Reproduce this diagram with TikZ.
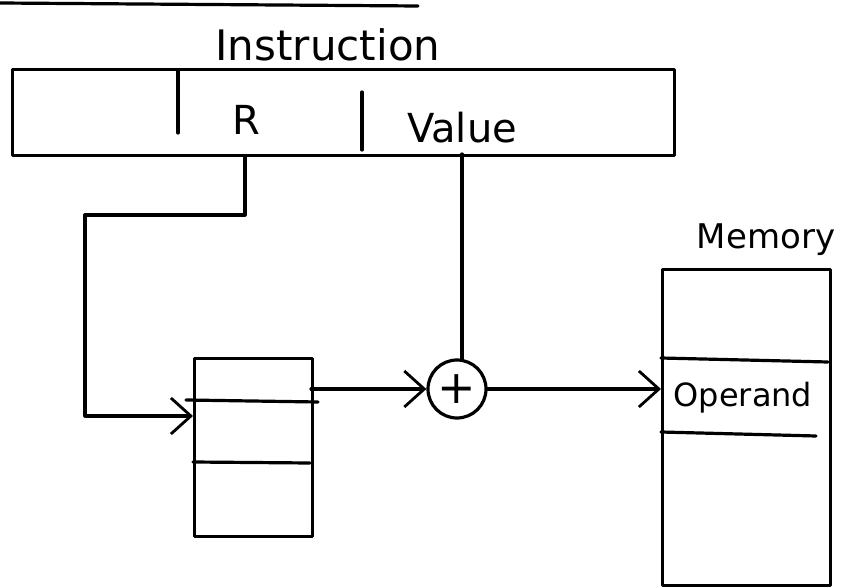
\documentclass[tikz,border=0pt]{standalone}
\usepackage{fontspec}
\setmainfont{DejaVu Sans}
\usetikzlibrary{arrows.meta}
\begin{document}
\begin{tikzpicture}[x=1pt,y=-1pt,
  ln/.style={line width=3.2pt, line cap=round, line join=round},
  arr/.style={ln, -{Straight Barb[length=20pt,width=36pt,line width=2.8pt]}},
  lbl/.style={inner sep=0pt, font=\fontsize{42}{44}\selectfont},
  box/.style={ln, draw, inner sep=0pt, anchor=north west}]
\useasboundingbox (0,0) rectangle (841,588);
\fill[white] (0,0) rectangle (841,588);
% top rule
\coordinate (ta) at (0,3);
\coordinate (tb) at (418,6);
\draw[ln] (ta) -- (tb);
% instruction
\node[lbl] (itxt) at (328,45) {Instruction};
\node[box, minimum width=662pt, minimum height=86pt] (inst) at (11,68) {};
\coordinate (d1t) at (178,70);
\coordinate (d1b) at (178,133);
\coordinate (d2t) at (362,92);
\coordinate (d2b) at (362,150);
\draw[ln] (d1t) -- (d1b);
\draw[ln] (d2t) -- (d2b);
\node[lbl, font=\fontsize{40}{42}\selectfont] (rtxt) at (246,120) {R};
\node[lbl, font=\fontsize{40}{42}\selectfont] (vtxt) at (462,128) {Value};
% register file
\node[box, minimum width=118pt, minimum height=178pt] (reg) at (193,357) {};
\coordinate (r1l) at (186,400);
\coordinate (r1r) at (318,402);
\coordinate (r2l) at (193,462);
\coordinate (r2r) at (310,463);
\draw[ln] (r1l) -- (r1r);
\draw[ln] (r2l) -- (r2r);
% adder
\node[ln, draw, circle, minimum size=58pt, inner sep=0pt] (add) at (457,389) {};
\node[lbl, font=\fontsize{46}{46}\selectfont] (plus) at (add.center) {+};
% memory
\node[lbl, font=\fontsize{34}{36}\selectfont] (mtxt) at (766,240) {Memory};
\node[box, minimum width=168pt, minimum height=316pt] (mem) at (661,268) {};
\coordinate (m1l) at (661,358);
\coordinate (m1r) at (828,362);
\coordinate (m2l) at (661,432);
\coordinate (m2r) at (816,436);
\draw[ln] (m1l) -- (m1r);
\draw[ln] (m2l) -- (m2r);
\node[lbl, font=\fontsize{32}{34}\selectfont] (otxt) at (743,398) {Operand};
% connectors
\coordinate (rdown) at (245,215);
\coordinate (rleft) at (85,215);
\coordinate (rbot) at (85,416);
\draw[arr] (inst.south west -| rdown) -- (rdown) -- (rleft) -- (rbot) -- (rbot -| reg.west);
\coordinate (vv) at (462,154);
\draw[ln] (vv) -- (vv |- add.north);
\coordinate (rout) at (311,389);
\draw[arr] (rout) -- (add.west);
\draw[arr] (add.east) -- (add.east -| mem.west);
\end{tikzpicture}
\end{document}
